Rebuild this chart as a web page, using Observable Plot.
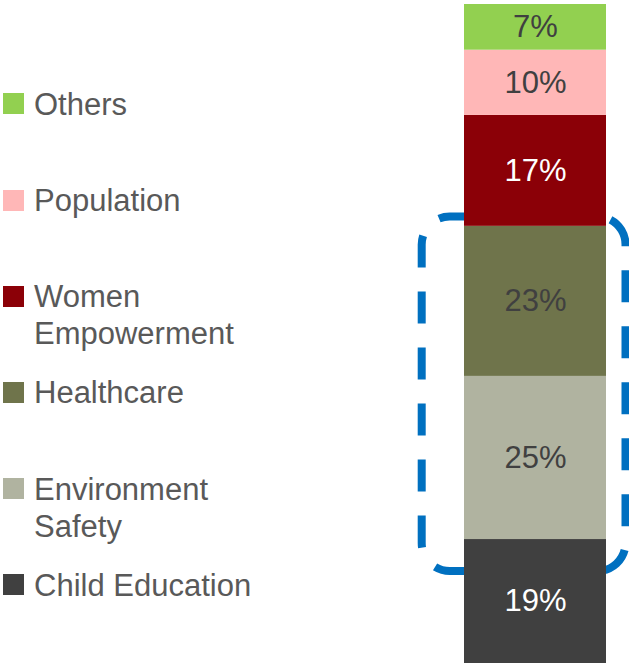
<!DOCTYPE html>
<html><head><meta charset="utf-8">
<script src="https://cdn.jsdelivr.net/npm/d3@7"></script>
<script src="https://cdn.jsdelivr.net/npm/@observablehq/plot@0.6"></script>
<style>
html,body{margin:0;padding:0;background:#fff;}
#wrap{position:relative;width:629px;height:663px;font-family:"Liberation Sans",Arial,sans-serif;}
#chart{position:absolute;left:0;top:0;}
.item{position:absolute;left:0;}
.sw{position:absolute;left:3px;width:21px;height:21px;}
.lab{position:absolute;left:34px;top:0;font-size:31px;line-height:37px;color:#595959;white-space:nowrap;}
</style></head><body>
<div id="wrap"><div id="chart"></div><div id="legend"></div></div>
<script>
// bottom to top
const categories = ["Child Education", "Environment Safety", "Healthcare", "Women Empowerment", "Population", "Others"];
const shares = [19, 25, 23, 17, 10, 7];
const shareLabels = ["19%", "25%", "23%", "17%", "10%", "7%"];
const colors = ["#404040", "#b0b3a0", "#6f744b", "#8b0007", "#ffb7b7", "#92d050"];
const whiteLabel = ["Child Education", "Women Empowerment"];
const highlighted = ["Environment Safety", "Healthcare"];
// legend, top to bottom
const legendOrder = ["Others", "Population", "Women Empowerment", "Healthcare", "Environment Safety", "Child Education"];
const legendLines = [["Others"], ["Population"], ["Women", "Empowerment"], ["Healthcare"], ["Environment", "Safety"], ["Child Education"]];

let acc = 0;
const rows = categories.map((c, i) => {
  const y1 = acc; acc += shares[i];
  return {cat: c, y1, y2: acc, mid: (y1 + acc) / 2, label: shareLabels[i]};
});
const total = acc;
const hlRows = rows.filter(d => highlighted.includes(d.cat));
const hl = [{y1: d3.min(hlRows, d => d.y1), y2: d3.max(hlRows, d => d.y2)}];

const font = "'Liberation Sans', Arial, sans-serif";
const plot = Plot.plot({
  width: 629, height: 663,
  marginLeft: 464, marginRight: 23, marginTop: 4, marginBottom: 0,
  x: {type: "band", domain: ["all"], padding: 0, axis: null},
  y: {domain: [0, total], axis: null},
  color: {domain: categories, range: colors},
  style: {background: "transparent", overflow: "visible"},
  marks: [
    Plot.barY(hl, {x: () => "all", y1: "y1", y2: "y2", fill: "none", stroke: "#0070c0", strokeWidth: 8,
      strokeDasharray: "32,24", strokeDashoffset: 6.7, rx: 28,
      insetLeft: -42.3, insetRight: -19.5, insetTop: -9.3, insetBottom: -32}),
    Plot.barY(rows, {x: () => "all", y1: "y1", y2: "y2", fill: "cat"}),
    Plot.text(rows.filter(d => !whiteLabel.includes(d.cat)), {x: () => "all", y: "mid", text: "label", fill: "#404040", fontSize: 31, fontFamily: font}),
    Plot.text(rows.filter(d => whiteLabel.includes(d.cat)), {x: () => "all", y: "mid", text: "label", fill: "#ffffff", fontSize: 31, fontFamily: font})
  ]
});
document.getElementById("chart").appendChild(plot);

const colorOf = c => colors[categories.indexOf(c)];
const leg = document.getElementById("legend");
legendOrder.forEach((c, i) => {
  const capMid = 104 + i * 96.2;
  const item = document.createElement("div");
  item.className = "item";
  item.style.top = (capMid - 18.2) + "px";
  const sw = document.createElement("div");
  sw.className = "sw";
  sw.style.top = "7.7px";
  sw.style.background = colorOf(c);
  const lab = document.createElement("div");
  lab.className = "lab";
  lab.innerHTML = legendLines[i].join("<br>");
  item.appendChild(sw); item.appendChild(lab);
  leg.appendChild(item);
});
</script>
</body></html>
